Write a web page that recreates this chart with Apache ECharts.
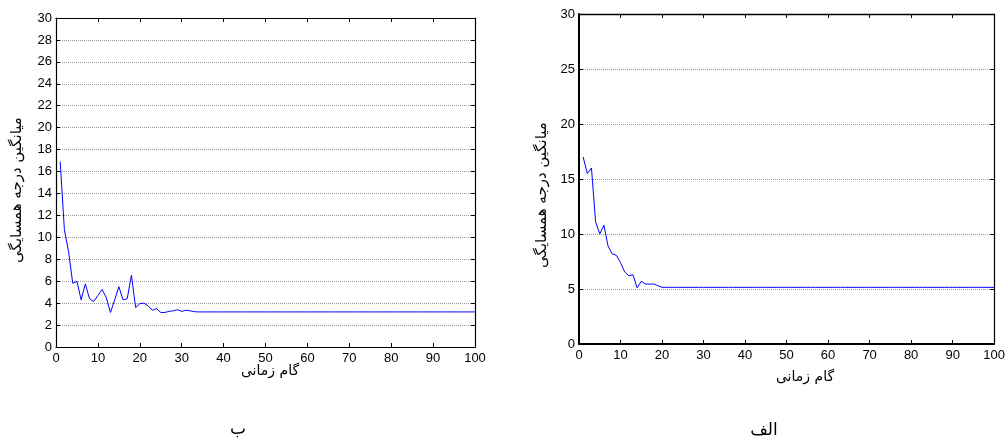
<!DOCTYPE html>
<html>
<head>
<meta charset="utf-8">
<script src="https://cdn.jsdelivr.net/npm/echarts@6/dist/echarts.min.js"></script>
<style>
html,body{margin:0;padding:0;background:#fff;}
#c{width:1008px;height:443px;}
</style>
</head>
<body>
<div id="c"></div>
<script>
// Time steps 1..100
const steps = Array.from({length: 100}, (_, i) => i + 1);

// Panel "ب": average neighbour degree per time step
const degreeB = [
  16.9, 10.7, 8.7, 5.8, 6.0, 4.3, 5.75, 4.4, 4.15, 4.7,
  5.25, 4.5, 3.15, 4.3, 5.5, 4.3, 4.4, 6.55, 3.6, 3.95,
  4.0, 3.75, 3.35, 3.5, 3.15, 3.15, 3.25, 3.3, 3.4, 3.25,
  3.35, 3.3, 3.22, 3.2, 3.2, 3.2, 3.2, 3.2, 3.2, 3.2,
  3.2, 3.2, 3.2, 3.2, 3.2, 3.2, 3.2, 3.2, 3.2, 3.2,
  3.2, 3.2, 3.2, 3.2, 3.2, 3.2, 3.2, 3.2, 3.2, 3.2,
  3.2, 3.2, 3.2, 3.2, 3.2, 3.2, 3.2, 3.2, 3.2, 3.2,
  3.2, 3.2, 3.2, 3.2, 3.2, 3.2, 3.2, 3.2, 3.2, 3.2,
  3.2, 3.2, 3.2, 3.2, 3.2, 3.2, 3.2, 3.2, 3.2, 3.2,
  3.2, 3.2, 3.2, 3.2, 3.2, 3.2, 3.2, 3.2, 3.2, 3.2
];

// Panel "الف": average neighbour degree per time step
const degreeA = [
  17.0, 15.5, 16.0, 11.1, 10.0, 10.8, 8.9, 8.2, 8.06, 7.4,
  6.55, 6.2, 6.3, 5.1, 5.7, 5.45, 5.45, 5.45, 5.3, 5.15,
  5.15, 5.15, 5.15, 5.15, 5.15, 5.15, 5.15, 5.15, 5.15, 5.15,
  5.15, 5.15, 5.15, 5.15, 5.15, 5.15, 5.15, 5.15, 5.15, 5.15,
  5.15, 5.15, 5.15, 5.15, 5.15, 5.15, 5.15, 5.15, 5.15, 5.15,
  5.15, 5.15, 5.15, 5.15, 5.15, 5.15, 5.15, 5.15, 5.15, 5.15,
  5.15, 5.15, 5.15, 5.15, 5.15, 5.15, 5.15, 5.15, 5.15, 5.15,
  5.15, 5.15, 5.15, 5.15, 5.15, 5.15, 5.15, 5.15, 5.15, 5.15,
  5.15, 5.15, 5.15, 5.15, 5.15, 5.15, 5.15, 5.15, 5.15, 5.15,
  5.15, 5.15, 5.15, 5.15, 5.15, 5.15, 5.15, 5.15, 5.15, 5.15
];

const yTitle = 'میانگین درجه همسایگی';
const xTitle = 'گام زمانی';
const panelLabels = ['ب', 'الف'];

const numFont = '"Liberation Sans", Arial, sans-serif';
const faFont = '"DejaVu Sans", sans-serif';

// Bottom axis with labels plus a bare top axis closing the box
function xAxes(gridIndex, lw, lwTop) {
  const common = {
    type: 'value', gridIndex, min: 0, max: 100, interval: 10,
    axisTick: {show: true, inside: true, length: 4, lineStyle: {color: '#000'}},
    splitLine: {show: false}
  };
  return [
    Object.assign({}, common, {
      position: 'bottom',
      axisLine: {show: true, onZero: false, lineStyle: {color: '#000', width: lw}},
      axisLabel: {color: '#000', fontSize: 13, fontFamily: numFont, margin: 5}
    }),
    Object.assign({}, common, {
      position: 'top',
      axisLine: {show: true, onZero: false, lineStyle: {color: '#000', width: lwTop}},
      axisLabel: {show: false}
    })
  ];
}

// Left axis with labels and dotted grid, bare right axis
function yAxes(gridIndex, interval, lw, lwRight) {
  const common = {
    type: 'value', gridIndex, min: 0, max: 30, interval,
    axisTick: {show: true, inside: true, length: 4, lineStyle: {color: '#000'}}
  };
  return [
    Object.assign({}, common, {
      position: 'left',
      axisLine: {show: true, onZero: false, lineStyle: {color: '#000', width: lw}},
      axisLabel: {color: '#000', fontSize: 13, fontFamily: numFont, margin: 4},
      splitLine: {show: true, lineStyle: {color: '#9a9a9a', type: [1, 1], width: 1}}
    }),
    Object.assign({}, common, {
      position: 'right',
      axisLine: {show: true, onZero: false, lineStyle: {color: '#000', width: lwRight}},
      axisLabel: {show: false},
      splitLine: {show: false}
    })
  ];
}

const chart = echarts.init(document.getElementById('c'), null, {renderer: 'canvas'});

chart.setOption({
  backgroundColor: '#fff',
  animation: false,
  grid: [
    {left: 56, right: 533, top: 18, bottom: 96},
    {left: 579, right: 9, top: 14, bottom: 99}
  ],
  xAxis: [...xAxes(0, 1.2, 1.2), ...xAxes(1, 2, 1.4)],
  yAxis: [...yAxes(0, 2, 1.2, 1.2), ...yAxes(1, 5, 2, 1.2)],
  series: [
    {
      type: 'line', xAxisIndex: 0, yAxisIndex: 0,
      data: steps.map((s, i) => [s, degreeB[i]]),
      symbol: 'none', lineStyle: {color: '#0000ff', width: 1}
    },
    {
      type: 'line', xAxisIndex: 2, yAxisIndex: 2,
      data: steps.map((s, i) => [s, degreeA[i]]),
      symbol: 'none', lineStyle: {color: '#0000ff', width: 1}
    }
  ],
  graphic: [
    {type: 'text', x: 17, y: 190, rotation: Math.PI / 2,
      style: {text: yTitle, font: '15px ' + faFont, fill: '#000', align: 'center', verticalAlign: 'middle'}},
    {type: 'text', x: 542, y: 195, rotation: Math.PI / 2,
      style: {text: yTitle, font: '15px ' + faFont, fill: '#000', align: 'center', verticalAlign: 'middle'}},
    {type: 'text', x: 270, y: 371,
      style: {text: xTitle, font: '14px ' + faFont, fill: '#000', align: 'center', verticalAlign: 'middle'}},
    {type: 'text', x: 805, y: 377,
      style: {text: xTitle, font: '14px ' + faFont, fill: '#000', align: 'center', verticalAlign: 'middle'}},
    {type: 'text', x: 238, y: 430,
      style: {text: panelLabels[0], font: '17px ' + faFont, fill: '#000', align: 'center', verticalAlign: 'middle'}},
    {type: 'text', x: 764, y: 431,
      style: {text: panelLabels[1], font: '17px ' + faFont, fill: '#000', align: 'center', verticalAlign: 'middle'}}
  ]
});
</script>
</body>
</html>
